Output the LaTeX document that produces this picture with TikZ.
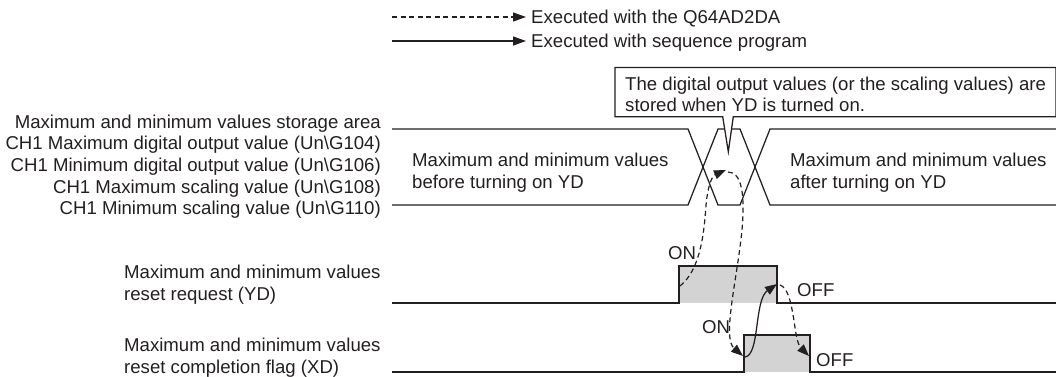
\documentclass[tikz,border=0pt]{standalone}
\usepackage{fontspec}
\setmainfont{Liberation Sans}
\usetikzlibrary{arrows.meta}
\definecolor{ink}{HTML}{231F20}
\definecolor{pulsefill}{HTML}{D3D3D3}
\begin{document}
\begin{tikzpicture}[x=1pt,y=-1pt,
  txt/.style={inner sep=0pt, font=\fontsize{18.6}{22}\selectfont, text=ink},
  wire/.style={draw=ink, line width=1.25pt, line join=miter},
  dsh/.style={draw=ink, line width=1.2pt, dash pattern=on 5pt off 3.5pt},
  tipA/.style={-{Triangle[length=13pt,width=9pt]}},
  tipB/.style={-{Triangle[length=12pt,width=9pt]}}]
\useasboundingbox (0,0) rectangle (1056,376);

% ---------- legend ----------
\coordinate (l1s) at (392,17);
\coordinate (l1e) at (526,17);
\coordinate (l2s) at (392,41);
\coordinate (l2e) at (526,41);
\draw[dsh, tipA] (l1s) -- (l1e);
\draw[wire, tipA] (l2s) -- (l2e);
\node[txt, anchor=base west] (leg1) at (531,23.5) {Executed with the Q64AD2DA};
\node[txt, anchor=base west] (leg2) at (531,47.5) {Executed with sequence program};

% ---------- left labels ----------
\node[txt, anchor=base east] (s0) at (381,128) {Maximum and minimum values storage area};
\node[txt, anchor=base east] (s1) at (381,149.5) {CH1 Maximum digital output value (Un\textbackslash G104)};
\node[txt, anchor=base east] (s2) at (381,171.5) {CH1 Minimum digital output value (Un\textbackslash G106)};
\node[txt, anchor=base east] (s3) at (381,193) {CH1 Maximum scaling value (Un\textbackslash G108)};
\node[txt, anchor=base east] (s4) at (381,214.5) {CH1 Minimum scaling value (Un\textbackslash G110)};

\node[txt, anchor=base west] (yd1) at (124,278.5) {Maximum and minimum values};
\node[txt, anchor=base west] (yd2) at (124,300.5) {reset request (YD)};
\node[txt, anchor=base west] (xd1) at (124,351.5) {Maximum and minimum values};
\node[txt, anchor=base west] (xd2) at (124,373.5) {reset completion flag (XD)};

% ---------- bus (storage area) ----------
\draw[wire] (392,129) -- (688,129) -- (718,205) -- (740,205) -- (770,129) -- (1056,129);
\draw[wire] (392,205) -- (688,205) -- (718,129) -- (740,129) -- (770,205) -- (1056,205);
\node[txt, anchor=base west] (b1) at (412,166) {Maximum and minimum values};
\node[txt, anchor=base west] (b2) at (412,188) {before turning on YD};
\node[txt, anchor=base west] (a1) at (790,166) {Maximum and minimum values};
\node[txt, anchor=base west] (a2) at (790,188) {after turning on YD};

% ---------- callout ----------
\draw[wire, fill=white] (615,67.5) -- (1056,67.5) -- (1056,116.7) -- (733.3,116.7)
  -- (728.3,151.7) -- (722.7,116.7) -- (615,116.7) -- cycle;
\node[txt, anchor=base west] (c1) at (625,90) {The digital output values (or the scaling values) are};
\node[txt, anchor=base west] (c2) at (625,111.5) {stored when YD is turned on.};

% ---------- YD signal ----------
\fill[pulsefill] (679,266) rectangle (777,303);
\draw[wire] (392,303) -- (679,303) -- (679,266) -- (777,266) -- (777,303) -- (1056,303);
% ---------- XD signal ----------
\fill[pulsefill] (744,335) rectangle (810,372);
\draw[wire] (392,372) -- (744,372) -- (744,335) -- (810,335) -- (810,372) -- (1056,372);

\node[txt, anchor=base west] (on1) at (668,259.7) {ON};
\node[txt, anchor=base west] (off1) at (797,296.5) {OFF};
\node[txt, anchor=base west] (on2) at (702,333) {ON};
\node[txt, anchor=base west] (off2) at (816,366.5) {OFF};

% ---------- arrows ----------
\coordinate (ydrise) at (680,286);
\coordinate (store) at (726,170);
\coordinate (storeout) at (728,172);
\coordinate (xdrise) at (743,356);
\coordinate (xdrise2) at (745,357);
\coordinate (ydfall) at (777,284);
\coordinate (ydfall2) at (780,285);
\coordinate (xdfall) at (809,356);

\draw[dsh, tipB] (ydrise) .. controls (700,270) and (704,235) .. (706,205)
  .. controls (708,185) and (712,176) .. (store);
\draw[dsh, tipB] (storeout) .. controls (742,172) and (745,195) .. (742,230)
  .. controls (737,280) and (722,338) .. (xdrise);
\draw[wire, tipB] (xdrise2) .. controls (760,355) and (754,300) .. (ydfall);
\draw[dsh, tipB] (ydfall2) .. controls (795,290) and (793,340) .. (xdfall);
\end{tikzpicture}
\end{document}
